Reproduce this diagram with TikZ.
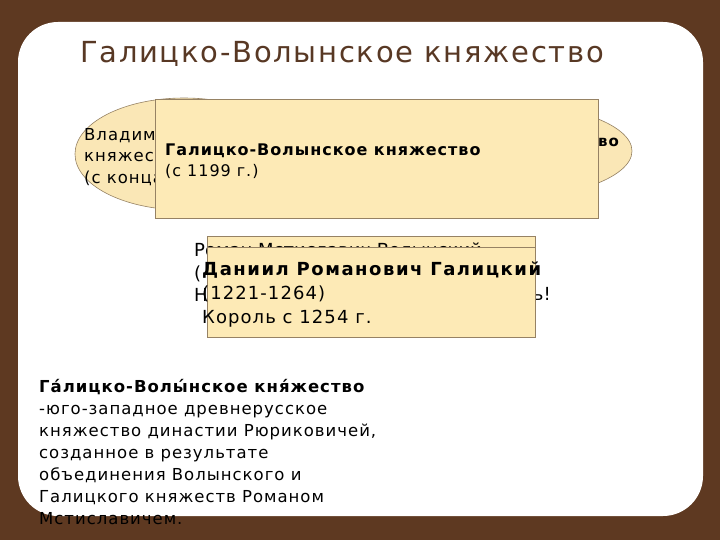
\documentclass[tikz,border=0pt]{standalone}
\usepackage{fontspec}
\setmainfont{DejaVu Sans}[LetterSpace=6]
\newfontfamily\plainfont{DejaVu Sans}
\newfontfamily\widefont{DejaVu Sans}[LetterSpace=8.5]
\definecolor{wood}{RGB}{94,57,33}
\definecolor{boxfill}{RGB}{253,234,182}
\definecolor{boxline}{RGB}{150,130,100}
\definecolor{ellfill}{RGB}{250,231,182}
\definecolor{titlec}{RGB}{88,56,36}
\tikzset{
  panelbox/.style={draw=boxline, fill=boxfill, line width=0.8pt, inner sep=0pt},
  ellshape/.style={draw=boxline, fill=ellfill, line width=0.6pt},
  txt/.style={inner sep=0pt, align=left, anchor=north west},
}
\begin{document}
\begin{tikzpicture}[x=1pt,y=-1pt]
\useasboundingbox (0,0) rectangle (720,540);
\fill[wood] (0,0) rectangle (720,540);
\fill[white, rounded corners=40pt] (18,22) rectangle (703,516);
\node[inner sep=0pt, anchor=base west, text=titlec, font=\fontsize{29}{34}\selectfont] (title) at (80,63) {Галицко-Волынское княжество};
% ellipses (two principalities)
\draw[ellshape] (486,151) ellipse [x radius=146, y radius=50];
\draw[ellshape] (184,154) ellipse [x radius=109, y radius=56];
\coordinate (ellL) at (184,154);
\coordinate (ellR) at (486,151);
\node[txt, font=\fontsize{16.5}{21.5}\selectfont] (elltext) at (84,128) {Владимиро-Волынское\\княжество\\(с конца X в.)};
\node[inner sep=0pt, anchor=base east, font=\fontsize{15}{21.5}\selectfont\bfseries] (elltextr) at (619,147) {Галицкое княжество};
% main box
\node[panelbox, minimum width=443pt, minimum height=119pt] (mainbox) at (376.5,158.5) {};
\node[txt, font=\fontsize{16}{21}\selectfont] (maintext) at (165,144) {\textbf{Галицко-Волынское княжество}\\(с 1199 г.)};
% second group
\node[panelbox, minimum width=328pt, minimum height=101pt] (backbox) at (371,286.5) {};
\node[txt, font=\plainfont\fontsize{18}{22.5}\selectfont] (backtext) at (194,243) {Роман Мстиславич Волынский\\(\\Н};
\node[inner sep=0pt, anchor=base east, font=\plainfont\fontsize{18}{22}\selectfont] (backtextr) at (551,300) {ь!};
\node[panelbox, minimum width=328pt, minimum height=90pt] (frontbox) at (371,292) {};
\node[txt, font=\fontsize{18}{24}\selectfont] (fronttext) at (202,262) {{\widefont\bfseries Даниил Романович Галицкий}\\(1221-1264)\\Король с 1254 г.};
% bottom text
\node[txt, font=\fontsize{16.5}{22}\selectfont] (deftext) at (39,379) {\textbf{Га́лицко-Волы́нское кня́жество}\\-юго-западное древнерусское\\княжество династии Рюриковичей,\\созданное в результате\\объединения Волынского и\\Галицкого княжеств Романом\\Мстиславичем.};
\end{tikzpicture}
\end{document}
